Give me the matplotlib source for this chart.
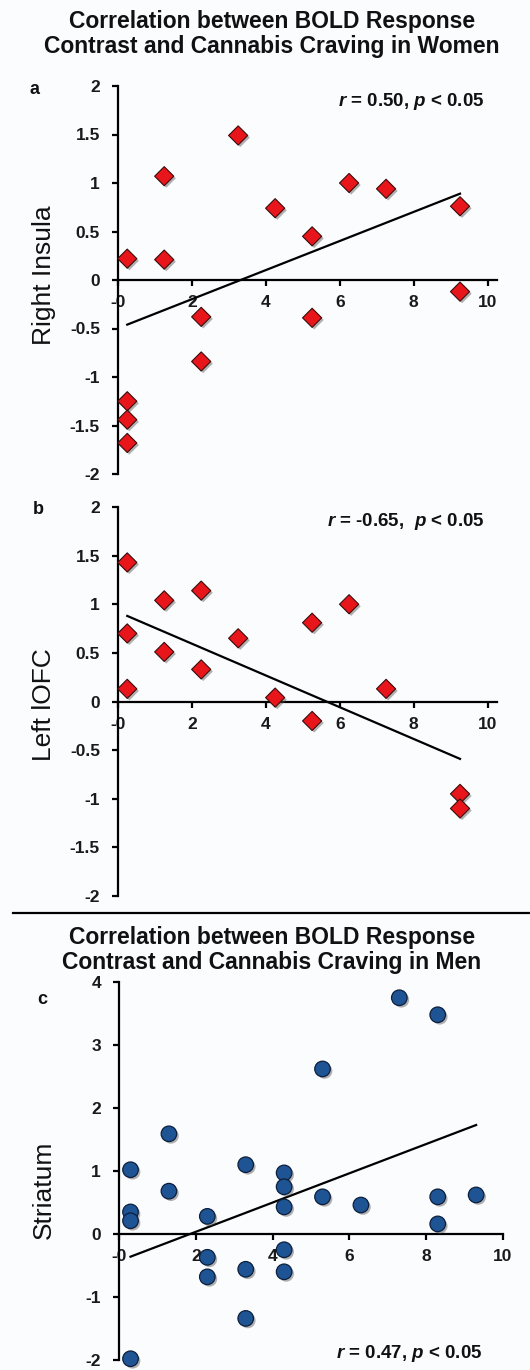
import matplotlib
matplotlib.use("Agg")
import matplotlib.pyplot as plt
import matplotlib.patheffects as pe

plt.rcParams['font.family'] = ['Liberation Sans Narrow', 'Liberation Sans', 'DejaVu Sans']
plt.rcParams['mathtext.fontset'] = 'custom'
plt.rcParams['mathtext.it'] = 'Liberation Sans:italic:bold'
plt.rcParams['mathtext.rm'] = 'Liberation Sans:bold'

# ---------------- data ----------------
craving_women_a = [0.25, 0.25, 0.25, 0.25, 1.25, 1.25, 2.25, 2.25, 3.25, 4.25,
                   5.25, 5.25, 6.25, 7.25, 9.25, 9.25]
right_insula = [0.22, -1.25, -1.44, -1.68, 1.07, 0.21, -0.38, -0.84, 1.49, 0.74,
                0.45, -0.39, 1.00, 0.94, 0.76, -0.12]
fit_a_x = [0.25, 9.25]
fit_a_y = [-0.46, 0.89]

craving_women_b = [0.25, 0.25, 0.25, 1.25, 1.25, 2.25, 2.25, 3.25, 4.25,
                   5.25, 5.25, 6.25, 7.25, 9.25, 9.25]
left_lofc = [1.43, 0.70, 0.13, 1.04, 0.51, 1.14, 0.33, 0.65, 0.04,
             0.81, -0.20, 1.00, 0.13, -0.95, -1.10]
fit_b_x = [0.25, 9.25]
fit_b_y = [0.88, -0.59]

craving_men = [0.3, 0.3, 0.3, 0.3, 1.3, 1.3, 2.3, 2.3, 2.3, 3.3, 3.3, 3.3,
               4.3, 4.3, 4.3, 4.3, 4.3, 5.3, 5.3, 6.3, 7.3, 8.3, 8.3, 8.3, 9.3]
striatum = [1.02, 0.35, 0.21, -1.98, 1.59, 0.68, 0.28, -0.37, -0.68, 1.10, -0.56, -1.34,
            0.97, 0.75, 0.43, -0.25, -0.60, 2.62, 0.59, 0.46, 3.75, 3.48, 0.59, 0.16, 0.62]
fit_c_x = [0.3, 9.3]
fit_c_y = [-0.36, 1.73]

x_ticks = [0, 2, 4, 6, 8, 10]
x_ticklabels = ["-0", "2", "4", "6", "8", "10"]
y_ticks_ab = [-2, -1.5, -1, -0.5, 0, 0.5, 1, 1.5, 2]
y_ticklabels_ab = ["-2", "-1.5", "-1", "-0.5", "0", "0.5", "1", "1.5", "2"]
y_ticks_c = [-2, -1, 0, 1, 2, 3, 4]
y_ticklabels_c = ["-2", "-1", "0", "1", "2", "3", "4"]

title_women = "Correlation between BOLD Response\nContrast and Cannabis Craving in Women"
title_men = "Correlation between BOLD Response\nContrast and Cannabis Craving in Men"

# ---------------- figure ----------------
W, H = 530, 1370
BG = '#fbfcfe'
fig = plt.figure(figsize=(W / 100, H / 100), dpi=100, facecolor=BG)


def px_axes(x0, x1, ytop, ybot):
    return fig.add_axes([x0 / W, 1 - ybot / H, (x1 - x0) / W, (ybot - ytop) / H])


def style(ax, xlim, ylim, yt, ytl):
    ax.set_facecolor('none')
    ax.set_xlim(*xlim)
    ax.set_ylim(*ylim)
    for s in ('top', 'right'):
        ax.spines[s].set_visible(False)
    ax.spines['bottom'].set_position(('data', 0))
    ax.spines['left'].set_linewidth(1.6)
    ax.spines['bottom'].set_linewidth(1.6)
    ax.spines['bottom'].set_zorder(1)
    ax.set_xticks(x_ticks)
    ax.set_xticklabels(x_ticklabels)
    ax.set_yticks(yt)
    ax.set_yticklabels(ytl)
    ax.tick_params(axis='both', direction='out', length=4, width=1.6,
                   labelsize=12.5)
    ax.tick_params(axis='x', pad=7)
    ax.tick_params(axis='y', pad=9)
    for lab in ax.get_xticklabels() + ax.get_yticklabels():
        lab.set_fontweight('bold')
        lab.set_color('#1a1a1a')


shadow_fx = [pe.withSimplePatchShadow(offset=(1.5, -1.5), shadow_rgbFace='#555555', alpha=0.45)]

# panel a
ax_a = px_axes(118, 497, 86, 474)
style(ax_a, (0, 10.25), (-2, 2), y_ticks_ab, y_ticklabels_ab)
ax_a.plot(fit_a_x, fit_a_y, color='black', lw=1.6, zorder=2)
ax_a.scatter(craving_women_a, right_insula, marker='D', s=95, color='#e8161b',
             edgecolors='#3a0c0c', linewidths=0.8, zorder=3, path_effects=shadow_fx,
             clip_on=False)

# panel b
ax_b = px_axes(118, 497, 507, 896)
style(ax_b, (0, 10.25), (-2, 2), y_ticks_ab, y_ticklabels_ab)
ax_b.plot(fit_b_x, fit_b_y, color='black', lw=1.6, zorder=2)
ax_b.scatter(craving_women_b, left_lofc, marker='D', s=95, color='#e8161b',
             edgecolors='#3a0c0c', linewidths=0.8, zorder=3, path_effects=shadow_fx,
             clip_on=False)

# panel c
ax_c = px_axes(119, 503, 982, 1360)
style(ax_c, (0, 10), (-2, 4), y_ticks_c, y_ticklabels_c)
ax_c.plot(fit_c_x, fit_c_y, color='black', lw=1.6, zorder=2)
ax_c.scatter(craving_men, striatum, marker='o', s=125, color='#1f5494',
             edgecolors='#0c1f3c', linewidths=0.9, zorder=3, path_effects=shadow_fx,
             clip_on=False)


def ftext(x, y, s, **kw):
    fig.text(x / W, 1 - y / H, s, **kw)


title_kw = dict(ha='center', va='center', fontsize=16.5, fontweight='bold',
                family=['Liberation Sans', 'DejaVu Sans'], color='#111111',
                linespacing=1.15)
ftext(272, 34, title_women, **title_kw)
ftext(272, 950, title_men, **title_kw)

# separator line
fig.add_artist(plt.Line2D([13 / W, 1.0], [1 - 913 / H, 1 - 913 / H],
                          color='black', lw=1.6, transform=fig.transFigure))

lab_kw = dict(fontsize=13, fontweight='bold', ha='center', va='center',
              family=['Liberation Sans', 'DejaVu Sans'], color='#111111')
ftext(35, 90, 'a', **lab_kw)
ftext(38, 509, 'b', **lab_kw)
ftext(42, 1000, 'c', **lab_kw)

ylab_kw = dict(fontsize=19, rotation=90, ha='center', va='center',
               family=['Liberation Sans', 'DejaVu Sans'], color='#111111')
ftext(44, 275, 'Right Insula', **ylab_kw)
ftext(44, 705, 'Left lOFC', **ylab_kw)
ftext(44, 1190, 'Striatum', **ylab_kw)

stat_kw = dict(fontsize=13.5, fontweight='bold', ha='right', va='center', color='#111111',
               family=['Liberation Sans', 'DejaVu Sans'])
ftext(484, 101, r'$r$ = 0.50, $p$ < 0.05', **stat_kw)
ftext(485, 522, r'$r$ = -0.65,  $p$ < 0.05', **stat_kw)
ftext(482, 1353, r'$r$ = 0.47, $p$ < 0.05', **stat_kw)

fig.savefig('out.png', dpi=100, facecolor=BG)
